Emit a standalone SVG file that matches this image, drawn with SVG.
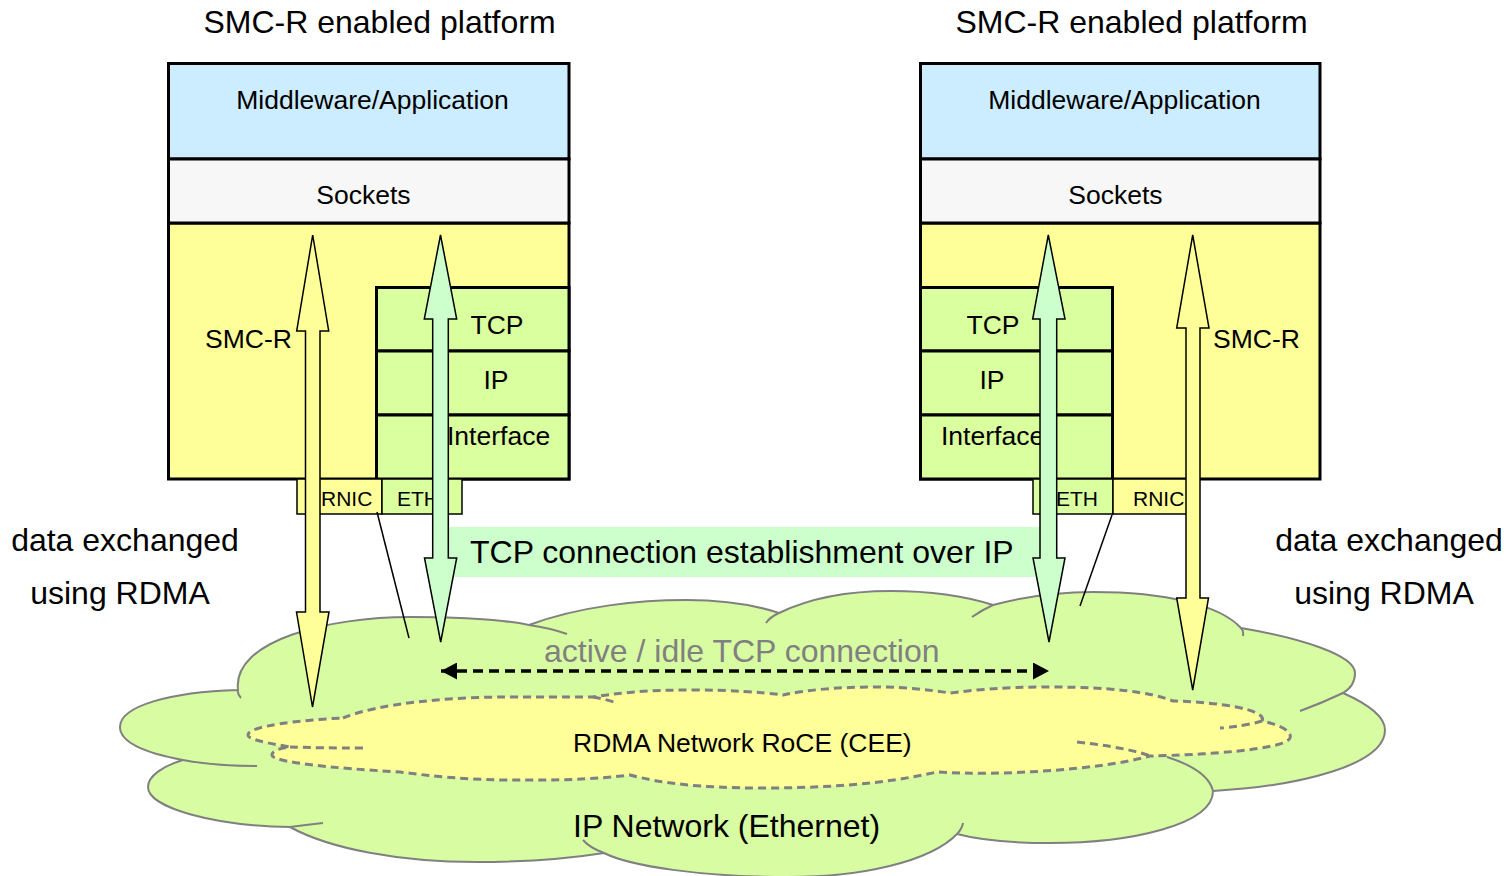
<svg xmlns="http://www.w3.org/2000/svg" width="1511" height="876" viewBox="0 0 1511 876">
<defs>
<style>
text{font-family:"Liberation Sans",Arial,sans-serif;fill:#000}
.t32{font-size:32px}
.t26{font-size:26.5px}
.t21{font-size:21px}
.mid{text-anchor:middle}
.app{fill:#CCECFF;stroke:#000;stroke-width:3}
.sock{fill:#F7F7F7;stroke:#000;stroke-width:3}
.smc{fill:#FFFF99;stroke:#000;stroke-width:3}
.stk{fill:#D9FF9F;stroke:#000;stroke-width:3}
.nicY{fill:#FFFF99;stroke:#000;stroke-width:1.5}
.nicG{fill:#D9FF9F;stroke:#000;stroke-width:1.5}
.arrY{fill:#FFFF99;stroke:#000;stroke-width:1.5;stroke-linejoin:miter}
.arrG{fill:#CCFFCC;stroke:#000;stroke-width:1.5;stroke-linejoin:miter}
.thin{fill:none;stroke:#000;stroke-width:1.5}
.cloud{fill:#D8FCA2;stroke:#808080;stroke-width:2}
.tail{fill:none;stroke:#808080;stroke-width:2}
.inner{fill:#FFFF99;stroke:#808080;stroke-width:3;stroke-dasharray:8 5}
.itail{fill:none;stroke:#808080;stroke-width:3;stroke-dasharray:8 5}
</style>
<marker id="ah" viewBox="0 0 16 17" refX="16" refY="8.5" markerWidth="16" markerHeight="17" markerUnits="userSpaceOnUse" orient="auto-start-reverse">
<path d="M0,0 L16,8.5 L0,17 Z" fill="#000"/>
</marker>
</defs>

<g id="ip-network">
<path class="cloud" d="M238,690 C232,640 330,617 410,617 C460,617 500,619 529,625 C580,606 640,600 686,600 C725,600 755,605 779,613 C810,598 850,591 891,591 C935,591 968,597 993,605 C1030,595 1060,592 1093,592 C1165,592 1220,605 1241,628 C1300,638 1355,655 1355,673 C1355,683 1350,689 1343,693 C1370,705 1385,718 1385,730 C1385,765 1300,786 1213,791 C1213,825 1130,843 1050,843 C1010,843 980,840 957,834 C930,862 860,877 790,877 C700,877 630,866 604,853 C560,860 520,862 477,862 C400,862 330,849 290,827 C215,826 148,808 148,787 C148,776 163,766 183,760 C140,752 120,741 120,727 C120,706 170,692 238,690 Z"/>
<path class="tail" d="M238,690 Q237,694 241,698 M529,625 Q550,628 567,634 M766,623 Q770,617 779,613 M972,617 Q982,610 993,605 M1241,628 Q1244,631 1243,636 M1343,693 Q1322,703 1300,711 M1167,757 Q1208,770 1213,791 M963,823 Q962,829 957,834 M604,853 Q590,848 583,840 M290,827 Q305,825 323,823 M183,760 Q215,766 257,766"/>
<text class="t32" x="573" y="837">IP Network (Ethernet)</text>
</g>

<g id="rdma-network">
<path class="inner" d="M343,718 C380,703 450,697 510,697 C550,697 575,697 593,697 C630,691 660,690 693,690 C730,690 760,692 783,695 C810,689 845,687 877,687 C905,687 930,690 950,693 C990,688 1020,687 1050,687 C1110,687 1150,692 1173,701 C1220,702 1268,710 1262,721 C1285,726 1292,733 1290,738 C1285,750 1200,755 1150,756 C1100,770 1000,776 937,772 C880,785 820,788 760,788 C700,788 660,783 630,775 C580,781 540,780 510,780 C470,780 430,776 400,772 C330,768 272,762 272,755 C272,751 280,748 290,747 C255,741 248,738 248,735 C248,726 300,720 343,718 Z"/>
<path class="itail" d="M1262,721 Q1245,726 1220,728 M1077,742 Q1130,748 1150,756 M290,747 Q320,748 363,748 M593,697 Q605,699 617,703"/>
<text class="t26" x="573" y="752">RDMA Network RoCE (CEE)</text>
</g>

<g id="left-platform">
<text class="t32 mid" x="379.5" y="33">SMC-R enabled platform</text>
<rect class="smc" x="168.5" y="223" width="400.5" height="256"/>
<rect class="app" x="168.5" y="63.5" width="400.5" height="95.5"/>
<rect class="sock" x="168.5" y="159" width="400.5" height="64"/>
<rect class="stk" x="376.5" y="287.5" width="192.5" height="63.5"/>
<rect class="stk" x="376.5" y="351" width="192.5" height="64"/>
<rect class="stk" x="376.5" y="415" width="192.5" height="64"/>
<text class="t26 mid" x="372.5" y="109">Middleware/Application</text>
<text class="t26 mid" x="363.5" y="204">Sockets</text>
<text class="t26" x="205" y="348">SMC-R</text>
<text class="t26 mid" x="497" y="334">TCP</text>
<text class="t26 mid" x="496" y="389">IP</text>
<text class="t26" x="447" y="445">Interface</text>
</g>

<g id="left-nic">
<rect class="nicY" x="297" y="479" width="85" height="35"/>
<rect class="nicG" x="382" y="479" width="80" height="35"/>
<text class="t21" x="321" y="506">RNIC</text>
<text class="t21" x="397" y="506">ETH</text>
</g>

<g id="right-platform">
<text class="t32 mid" x="1131.5" y="33">SMC-R enabled platform</text>
<rect class="smc" x="920.5" y="223" width="399.5" height="256"/>
<rect class="app" x="920.5" y="63.5" width="399.5" height="95.5"/>
<rect class="sock" x="920.5" y="159" width="399.5" height="64"/>
<rect class="stk" x="920.5" y="287.5" width="192" height="63.5"/>
<rect class="stk" x="920.5" y="351" width="192" height="64"/>
<rect class="stk" x="920.5" y="415" width="192" height="64"/>
<text class="t26 mid" x="1124.5" y="109">Middleware/Application</text>
<text class="t26 mid" x="1115.5" y="204">Sockets</text>
<text class="t26" x="1213" y="348">SMC-R</text>
<text class="t26 mid" x="993" y="334">TCP</text>
<text class="t26 mid" x="992" y="389">IP</text>
<text class="t26" x="941" y="445">Interface</text>
</g>

<g id="right-nic">
<rect class="nicG" x="1033" y="479" width="80" height="35"/>
<rect class="nicY" x="1113" y="479" width="85" height="35"/>
<text class="t21" x="1056" y="506">ETH</text>
<text class="t21" x="1133" y="506">RNIC</text>
</g>

<g id="tcp-establishment">
<rect x="448" y="527" width="592" height="50" fill="#CCFFCC"/>
<text class="t32" x="470" y="563">TCP connection establishment over IP</text>
</g>

<g id="labels">
<text class="t32 mid" x="125" y="551">data exchanged</text>
<text class="t32 mid" x="120" y="604">using RDMA</text>
<text class="t32 mid" x="1389" y="551">data exchanged</text>
<text class="t32 mid" x="1384" y="604">using RDMA</text>
<text class="t32" x="544" y="662" style="fill:#808080">active / idle TCP connection</text>
</g>

<g id="connectors">
<path class="thin" d="M377,512 L409,638"/>
<path class="thin" d="M1112,515 L1080,606"/>
<polygon class="arrY" points="312.7,235 328.7,331 320,331 320,612 329,612 312.5,707 296.5,612 305.5,612 305.5,331 296.7,331"/>
<polygon class="arrG" points="440.5,235 456.7,319 448.3,319 448.3,558 456.7,558 440.7,642 424.5,558 432.7,558 432.7,319 424.3,319"/>
<polygon class="arrG" points="1048.3,235 1065,319 1056.7,319 1056.7,558 1065,558 1049,642 1033,558 1040,558 1040,319 1032.7,319"/>
<polygon class="arrY" points="1192.7,235 1209,328 1200,328 1200,598 1208.5,598 1192.7,690 1176.7,598 1186,598 1186,328 1176.7,328"/>
<line x1="441" y1="671" x2="1049" y2="671" stroke="#000" stroke-width="3.5" stroke-dasharray="10 6" marker-start="url(#ah)" marker-end="url(#ah)"/>
</g>
</svg>
